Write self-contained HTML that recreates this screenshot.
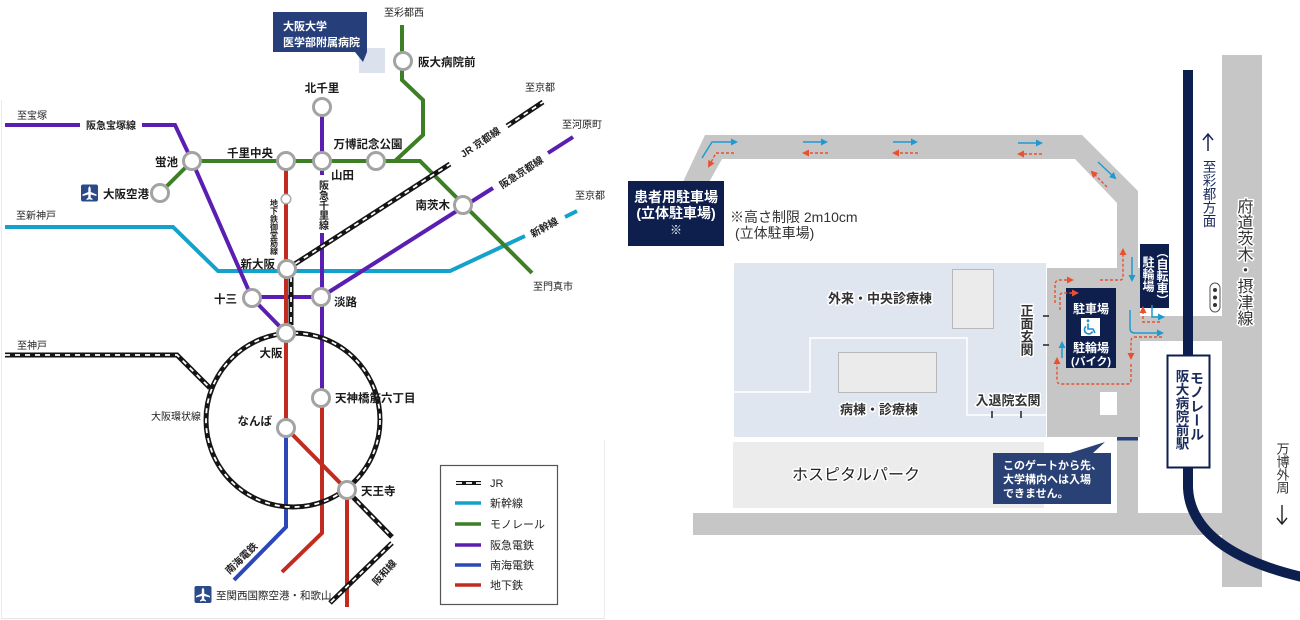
<!DOCTYPE html>
<html><head><meta charset="utf-8">
<style>
html,body{margin:0;padding:0;background:#fff;}
svg{display:block}
.jr1{fill:none;stroke:#151515;stroke-width:5}
.jr2{fill:none;stroke:#fff;stroke-width:1.8;stroke-dasharray:5 5}
.st{fill:#fff;stroke:#a3a3a3;stroke-width:3}
.lb{font-size:11.5px;font-weight:bold;fill:#1a1a1a}
.sm{font-size:10px;fill:#222}
.rl{font-size:10px;font-weight:bold;fill:#222}
.h{paint-order:stroke;stroke:#fff;stroke-width:3px;stroke-linejoin:round}
.vt{writing-mode:vertical-rl}
.pu{fill:none;stroke:#5a1fb0;stroke-width:4}
.gr{fill:none;stroke:#3d7f24;stroke-width:4}
.rd{fill:none;stroke:#c22b1f;stroke-width:4}
.bl{fill:none;stroke:#2c48b8;stroke-width:4}
.cy{fill:none;stroke:#14a2cc;stroke-width:4}
.ab{fill:none;stroke:#1f9ad0;stroke-width:1.5}
.ar{fill:none;stroke:#e9502f;stroke-width:1.4;stroke-dasharray:3 2}
</style></head><body>
<svg width="1300" height="620" viewBox="0 0 1300 620" xmlns="http://www.w3.org/2000/svg" font-family="'Liberation Sans','Noto Sans CJK JP',sans-serif">
<defs>
<marker id="mb" markerWidth="8" markerHeight="8" refX="5" refY="4" orient="auto" markerUnits="userSpaceOnUse"><path d="M0,0.5 L7,4 L0,7.5 z" fill="#1f9ad0"/></marker>
<marker id="mr" markerWidth="8" markerHeight="8" refX="5" refY="4" orient="auto" markerUnits="userSpaceOnUse"><path d="M0,0.5 L7,4 L0,7.5 z" fill="#e9502f"/></marker>
</defs>
<rect width="1300" height="620" fill="#fff"/>

<!-- ================= LEFT PANEL ================= -->
<line x1="1.5" y1="100" x2="1.5" y2="618" stroke="#ececec" stroke-width="1"/>
<line x1="1" y1="618.5" x2="605" y2="618.5" stroke="#e6e6e6" stroke-width="1"/>
<line x1="604.5" y1="440" x2="604.5" y2="618" stroke="#ececec" stroke-width="1"/>

<!-- callout 大阪大学 -->
<rect x="359" y="48" width="26" height="25" fill="#dbe2ee"/>
<path d="M273,12 H367 V52 L363,62 L355,52 H273 Z" fill="#263e7a"/>
<text x="283" y="30" font-size="11" font-weight="bold" fill="#fff">大阪大学</text>
<text x="283" y="46" font-size="11" font-weight="bold" fill="#fff">医学部附属病院</text>

<!-- cyan shinkansen -->
<path class="cy" d="M5,227 H173 L218,271 H450 L525,236"/>
<path class="cy" d="M565,217 L577,211"/>

<!-- purple -->
<path class="pu" d="M5,125 H80"/>
<path class="pu" d="M142,125 H175 L192,161 L252,298 L286,333"/>
<path class="pu" d="M252,297 H321"/>
<path class="pu" d="M322,107 V175"/>
<path class="pu" d="M322,233 V398"/>
<path class="pu" d="M321,297 L493,188"/>
<path class="pu" d="M548,153 L573,137"/>

<!-- green monorail -->
<path class="gr" d="M402,25 V80 L423,100 V135 L395,161"/>
<path class="gr" d="M192,161 H420 L532,273"/>
<path class="gr" d="M192,161 L160,193"/>

<!-- red subway -->
<path class="rd" d="M286,161 V428 L347,490 V607"/>
<path class="rd" d="M322,398 V533 L282,572"/>

<!-- blue nankai -->
<path class="bl" d="M286,428 V527 L234,580"/>

<!-- JR lines -->
<g>
<path class="jr1" d="M287,269 L450,164"/><path class="jr2" d="M287,269 L450,164"/>
<path class="jr1" d="M507,126 L543,102"/><path class="jr2" d="M507,126 L543,102"/>
<path class="jr1" d="M291,277 V325"/><path class="jr2" d="M291,277 V325"/>
<path class="jr1" d="M5,355 H177 L210,388"/><path class="jr2" d="M5,355 H177 L210,388"/>
<circle class="jr1" cx="293" cy="420" r="87"/><circle class="jr2" cx="293" cy="420" r="87"/>
<path class="jr1" d="M350,494 L392,537"/><path class="jr2" d="M350,494 L392,537"/>
<path class="jr1" d="M392,543 L330,603"/><path class="jr2" d="M392,543 L330,603"/>
</g>

<!-- stations -->
<circle class="st" cx="192" cy="161" r="8.5"/>
<circle class="st" cx="160" cy="193" r="8.5"/>
<circle class="st" cx="286" cy="161" r="8.5"/>
<circle class="st" cx="322" cy="161" r="8.5"/>
<circle class="st" cx="322" cy="107" r="8.5"/>
<circle class="st" cx="376" cy="161" r="8.5"/>
<circle class="st" cx="403" cy="61" r="8.5"/>
<circle class="st" cx="463" cy="205" r="8.5"/>
<circle class="st" cx="287" cy="269" r="8.5"/>
<circle class="st" cx="252" cy="298" r="8.5"/>
<circle class="st" cx="321" cy="297" r="8.5"/>
<circle class="st" cx="286" cy="333" r="8.5"/>
<circle class="st" cx="321" cy="398" r="8.5"/>
<circle class="st" cx="286" cy="428" r="8.5"/>
<circle class="st" cx="347" cy="490" r="8.5"/>
<circle cx="286" cy="199" r="4.8" fill="#fff" stroke="#aaa" stroke-width="1.5"/>

<!-- station labels -->
<text class="lb" x="178" y="166" text-anchor="end">蛍池</text>
<text class="lb" x="103" y="198">大阪空港</text>
<text class="lb" x="250" y="157" text-anchor="middle">千里中央</text>
<text class="lb" x="322" y="92" text-anchor="middle">北千里</text>
<text class="lb" x="331" y="179">山田</text>
<text class="lb" x="368" y="148" text-anchor="middle">万博記念公園</text>
<text class="lb" x="418" y="66">阪大病院前</text>
<text class="lb" x="450" y="209" text-anchor="end">南茨木</text>
<text class="lb" x="275" y="268" text-anchor="end">新大阪</text>
<text class="lb" x="237" y="303" text-anchor="end">十三</text>
<text class="lb" x="334" y="306">淡路</text>
<text class="lb" x="271" y="357" text-anchor="middle">大阪</text>
<text class="lb" x="335" y="402">天神橋筋六丁目</text>
<text class="lb" x="272" y="425" text-anchor="end">なんば</text>
<text class="lb" x="361" y="495">天王寺</text>

<!-- small labels -->
<text class="sm" x="404" y="16" text-anchor="middle">至彩都西</text>
<text class="sm" x="540" y="91" text-anchor="middle">至京都</text>
<text class="sm" x="582" y="128" text-anchor="middle">至河原町</text>
<text class="sm" x="590" y="199" text-anchor="middle">至京都</text>
<text class="sm" x="553" y="290" text-anchor="middle">至門真市</text>
<text class="sm" x="32" y="119" text-anchor="middle">至宝塚</text>
<text class="sm" x="36" y="219" text-anchor="middle">至新神戸</text>
<text class="sm" x="32" y="349" text-anchor="middle">至神戸</text>
<text class="sm" x="176" y="420" text-anchor="middle">大阪環状線</text>
<text class="rl" x="111" y="129" text-anchor="middle">阪急宝塚線</text>
<text class="rl" x="480" y="146" text-anchor="middle" transform="rotate(-34 480 142)">JR 京都線</text>
<text class="rl" x="521" y="176" text-anchor="middle" transform="rotate(-33 521 172)">阪急京都線</text>
<text class="rl" x="544" y="231" text-anchor="middle" transform="rotate(-29 544 227)">新幹線</text>
<text class="rl" x="241" y="562" text-anchor="middle" transform="rotate(-44 241 558)">南海電鉄</text>
<text class="rl" x="384" y="576" text-anchor="middle" transform="rotate(-48 384 572)">阪和線</text>
<text class="rl vt" x="322" y="180" font-size="9.5">阪急千里線</text>
<text class="vt" x="274" y="199" font-size="8" fill="#222" font-weight="bold">地下鉄御堂筋線</text>

<!-- airplane icons -->
<g transform="translate(89.5,193)">
<rect x="-8.5" y="-8.5" width="17" height="17" rx="2" fill="#2a4a8a"/>
<path d="M0,-7 L1.2,-5 L1.2,-1 L7,1.5 L7,3 L1.2,1.5 L1.2,4.5 L3,6 L3,7 L0,6.2 L-3,7 L-3,6 L-1.2,4.5 L-1.2,1.5 L-7,3 L-7,1.5 L-1.2,-1 L-1.2,-5 Z" fill="#fff"/>
</g>
<g transform="translate(203,594.5)">
<rect x="-8.5" y="-8.5" width="17" height="17" rx="2" fill="#2a4a8a"/>
<path d="M0,-7 L1.2,-5 L1.2,-1 L7,1.5 L7,3 L1.2,1.5 L1.2,4.5 L3,6 L3,7 L0,6.2 L-3,7 L-3,6 L-1.2,4.5 L-1.2,1.5 L-7,3 L-7,1.5 L-1.2,-1 L-1.2,-5 Z" fill="#fff"/>
</g>
<text x="216" y="599" font-size="10.5" fill="#222">至関西国際空港・和歌山</text>

<!-- legend -->
<rect x="440.5" y="465.5" width="117" height="139" fill="#fff" stroke="#555" stroke-width="1.2"/>
<line class="jr1" x1="456" y1="483" x2="481" y2="483" style="stroke-width:4"/>
<line class="jr2" x1="456" y1="483" x2="481" y2="483" style="stroke-dasharray:6 4"/>
<line x1="455" y1="503" x2="481" y2="503" stroke="#14a2cc" stroke-width="3.5"/>
<line x1="455" y1="524" x2="481" y2="524" stroke="#3d7f24" stroke-width="3.5"/>
<line x1="455" y1="545" x2="481" y2="545" stroke="#5a1fb0" stroke-width="3.5"/>
<line x1="455" y1="565" x2="481" y2="565" stroke="#2c48b8" stroke-width="3.5"/>
<line x1="455" y1="585" x2="481" y2="585" stroke="#c22b1f" stroke-width="3.5"/>
<g font-size="11" fill="#222">
<text x="490" y="487">JR</text>
<text x="490" y="507">新幹線</text>
<text x="490" y="528">モノレール</text>
<text x="490" y="549">阪急電鉄</text>
<text x="490" y="569">南海電鉄</text>
<text x="490" y="589">地下鉄</text>
</g>

<!-- ================= RIGHT PANEL ================= -->
<!-- roads -->
<g fill="#c6c6c6">
<polygon points="682,184 705,135 1082,135 1138,191 1138,270 1117,270 1117,203 1075,159 722,159 708,184"/>
<rect x="1047" y="268" width="93" height="169"/>
<rect x="1117" y="437" width="21" height="78"/>
<rect x="1138" y="316" width="86" height="25"/>
<rect x="1222" y="55" width="40" height="532"/>
<rect x="693" y="513" width="531" height="22"/>
</g>
<rect x="1100" y="392" width="17" height="23" fill="#fff"/>
<rect x="1117" y="437" width="21" height="3.5" fill="#27407a"/>

<!-- hospital -->
<rect x="734" y="263" width="312" height="174" fill="#dfe6f0"/>
<polyline points="734,392 810,392 810,338 967,338 967,415 1046,415" fill="none" stroke="#fff" stroke-width="1.5"/>
<rect x="952.5" y="269.5" width="41" height="59" fill="#ebebeb" stroke="#b8b8b8" stroke-width="1"/>
<rect x="838.5" y="352.5" width="98" height="40" fill="#ebebeb" stroke="#b8b8b8" stroke-width="1"/>
<text class="h" x="880" y="303" font-size="13" font-weight="bold" fill="#333" text-anchor="middle">外来・中央診療棟</text>
<text class="h" x="879" y="414" font-size="13" font-weight="bold" fill="#333" text-anchor="middle">病棟・診療棟</text>
<text class="h" x="1008" y="405" font-size="13" font-weight="bold" fill="#333" text-anchor="middle">入退院玄関</text>
<text class="h vt" x="1026" y="304" font-size="13" font-weight="bold" fill="#333">正面玄関</text>
<g stroke="#222" stroke-width="1.5">
<line x1="992" y1="411" x2="992" y2="418"/><line x1="1021" y1="411" x2="1021" y2="418"/>
<line x1="1043" y1="316" x2="1049" y2="316"/><line x1="1043" y1="345" x2="1049" y2="345"/>
</g>

<!-- hospital park -->
<rect x="733" y="442" width="311" height="66" fill="#ececec"/>
<text class="h" x="856" y="480" font-size="16" fill="#222" text-anchor="middle">ホスピタルパーク</text>

<!-- gate callout -->
<path d="M993,453 H1070 L1105,442 L1093,453 H1111 V504 H993 Z" fill="#2a4175"/>
<g font-size="11" font-weight="bold" fill="#fff">
<text x="1003" y="469">このゲートから先、</text>
<text x="1003" y="483">大学構内へは入場</text>
<text x="1003" y="497">できません。</text>
</g>

<!-- patient parking -->
<rect x="628" y="181" width="96" height="65" fill="#0e1f4d"/>
<g font-size="14" font-weight="bold" fill="#fff" text-anchor="middle">
<text x="676" y="202">患者用駐車場</text>
<text x="676" y="218">(立体駐車場)</text>
<text x="676" y="234" font-size="12">※</text>
</g>
<text x="730" y="222" font-size="14" fill="#333">※高さ制限 2m10cm</text>
<text x="735" y="238" font-size="14" fill="#333">(立体駐車場)</text>

<!-- bicycle parking -->
<rect x="1140" y="244" width="29" height="64" fill="#0e1f4d"/>
<text class="vt" x="1162" y="246" font-size="12" fill="#fff" font-weight="bold">（自転車）</text>
<text class="vt" x="1148" y="256" font-size="12" fill="#fff" font-weight="bold">駐輪場</text>

<!-- disabled parking -->
<rect x="1066" y="288" width="50" height="80" fill="#0e1f4d"/>
<g font-size="12" font-weight="bold" fill="#fff" text-anchor="middle">
<text x="1091" y="313">駐車場</text>
<text x="1091" y="352">駐輪場</text>
<text x="1091" y="365" font-size="11">(バイク)</text>
</g>
<rect x="1081" y="318" width="19" height="18" fill="#fff"/>
<g fill="none" stroke="#1f8fd0" stroke-width="1.6">
<circle cx="1088" cy="320.8" r="1.4" fill="#1f8fd0" stroke="none"/>
<path d="M1088,323.5 V329 H1093 L1095,333"/>
<path d="M1086,326.5 A4.2,4.2 0 1 0 1092.5,331.5"/>
</g>

<!-- traffic signal -->
<rect x="1210" y="283" width="10" height="29" rx="5" fill="#fff" stroke="#555" stroke-width="1"/>
<circle cx="1215" cy="290" r="2" fill="#333"/><circle cx="1215" cy="297.5" r="2" fill="#333"/><circle cx="1215" cy="305" r="2" fill="#333"/>

<!-- monorail -->
<path d="M1188,70 V360" stroke="#0d1f4f" stroke-width="10" fill="none"/>
<path d="M1188,465 V488 C1190,530 1230,560 1302,577" stroke="#0d1f4f" stroke-width="10" fill="none"/>
<rect x="1167.5" y="355.5" width="42" height="112" fill="#fff" stroke="#0d1f4f" stroke-width="2"/>
<text class="vt" x="1197" y="371" font-size="14" font-weight="bold" fill="#1a2a5a">モノレール</text>
<text class="vt" x="1181" y="369" font-size="13.5" font-weight="bold" fill="#1a2a5a">阪大病院前駅</text>

<!-- direction texts -->
<path d="M1208,151 V134 M1203,140 L1208,134 L1213,140" fill="none" stroke="#1a2550" stroke-width="1.5"/>
<text class="vt" x="1208" y="160" font-size="13.5" fill="#1a2a5a">至彩都方面</text>
<text class="h vt" x="1243" y="198" font-size="16" fill="#333">府道茨木・摂津線</text>
<text class="vt" x="1282" y="442" font-size="13" fill="#333">万博外周</text>
<path d="M1282,505 V523 M1277,518 L1282,524 L1287,518" fill="none" stroke="#222" stroke-width="1.4"/>

<!-- blue arrows -->
<path class="ab" d="M702,158 L712,142 L736,142" marker-end="url(#mb)"/>
<path class="ab" d="M803,142 H826" marker-end="url(#mb)"/>
<path class="ab" d="M893,142 H916" marker-end="url(#mb)"/>
<path class="ab" d="M1018,143 H1041" marker-end="url(#mb)"/>
<path class="ab" d="M1098,162 L1115,178" marker-end="url(#mb)"/>
<path class="ab" d="M1132,257 V280" marker-end="url(#mb)"/>
<path class="ab" d="M1130,310 V328 Q1130,333 1135,333 H1162" marker-end="url(#mb)"/>
<path class="ab" d="M1152,305 V317 H1163" marker-end="url(#mb)"/>
<path class="ab" d="M1062,358 V343" marker-end="url(#mb)"/>

<!-- red dashed arrows -->
<path class="ar" d="M734,153 H716 L709,166" marker-end="url(#mr)"/>
<path class="ar" d="M828,153 H804" marker-end="url(#mr)"/>
<path class="ar" d="M918,153 H894" marker-end="url(#mr)"/>
<path class="ar" d="M1042,154 H1019" marker-end="url(#mr)"/>
<path class="ar" d="M1107,187 L1092,172" marker-end="url(#mr)"/>
<path class="ar" d="M1100,280 H1120 Q1123,280 1123,277 V250" marker-end="url(#mr)"/>
<path class="ar" d="M1055,303 V285 Q1055,280 1060,280 H1072" marker-end="url(#mr)"/>
<path class="ar" d="M1060,310 V296 Q1060,293 1063,293 H1077" marker-end="url(#mr)"/>
<path class="ar" d="M1160,322 H1143 V308" marker-end="url(#mr)"/>
<path class="ar" d="M1162,337 H1135 Q1131,337 1131,341 V358" marker-end="url(#mr)"/>
<path class="ar" d="M1131,364 V380 Q1131,384 1127,384 H1061 Q1057,384 1057,380 V359" marker-end="url(#mr)"/>
</svg>
</body></html>
